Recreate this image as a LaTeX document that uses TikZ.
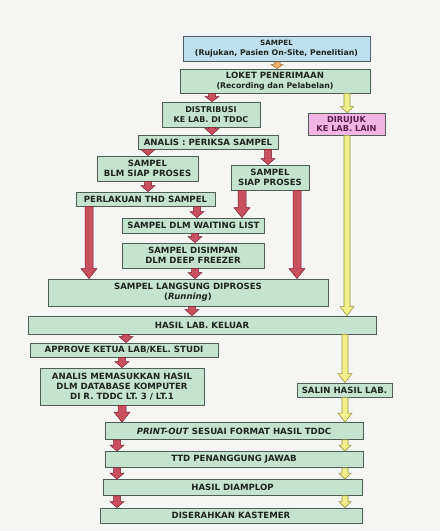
\documentclass[tikz,border=0pt]{standalone}
\usepackage{fontspec}
\setmainfont{DejaVu Sans}
\usetikzlibrary{calc}
\definecolor{paper}{HTML}{F5F5F3}
\definecolor{gfill}{HTML}{C4E4D0}
\definecolor{gedge}{HTML}{4E5E56}
\definecolor{bfill}{HTML}{BEE0EE}
\definecolor{bedge}{HTML}{4E5E66}
\definecolor{pfill}{HTML}{F2B4E4}
\definecolor{ptext}{HTML}{5A1E4A}
\definecolor{rfill}{HTML}{C9505F}
\definecolor{redge}{HTML}{7A2030}
\definecolor{yfill}{HTML}{F2F08A}
\definecolor{yedge}{HTML}{9A9440}
\definecolor{ofill}{HTML}{F0B070}
\definecolor{oedge}{HTML}{A06A30}
\definecolor{txt}{HTML}{1E2420}
\tikzset{
  bshaft/.store in=\bshaft, bhead/.store in=\bhead, bhlen/.store in=\bhlen,
  bshaft=3.5pt, bhead=7pt, bhlen=6pt,
  blk/.style={to path={let \p1=(\tikztostart), \p2=(\tikztotarget) in
    (\x1-\bshaft,\y1) -- (\x1+\bshaft,\y1) -- (\x1+\bshaft,\y2+\bhlen) -- (\x1+\bhead,\y2+\bhlen)
    -- (\x1,\y2) -- (\x1-\bhead,\y2+\bhlen) -- (\x1-\bshaft,\y2+\bhlen) -- cycle}},
  rarr/.style={draw=redge, fill=rfill, line width=0.5pt, blk},
  yarr/.style={draw=yedge, fill=yfill, line width=0.6pt, blk},
  oarr/.style={draw=oedge, fill=ofill, line width=0.5pt, blk},
  longarr/.style={bshaft=4pt, bhead=8pt, bhlen=10pt},
  box/.style={draw=gedge, fill=gfill, line width=0.8pt, inner sep=1pt, align=center,
    text=txt, font=\fontsize{8.6}{10}\selectfont\bfseries},
  bbox/.style={box, draw=bedge, fill=bfill},
  pbox/.style={box, fill=pfill, text=ptext},
}
\begin{document}
\begin{tikzpicture}[x=1pt,y=-1pt]
\useasboundingbox (0,0) rectangle (440,531);
\fill[paper] (0,0) rectangle (440,531);
% columns
\coordinate (cO) at (277,0);
\coordinate (cA) at (212,0);
\coordinate (cY) at (347,0);
\coordinate (cY2) at (345,0);
\coordinate (cB) at (148,0);
\coordinate (cC) at (268,0);
\coordinate (cD) at (197,0);
\coordinate (cE) at (89,0);
\coordinate (cF) at (242,0);
\coordinate (cG) at (297,0);
\coordinate (cH) at (195,0);
\coordinate (cI) at (192,0);
\coordinate (cJ) at (126,0);
\coordinate (cK) at (122,0);
\coordinate (cL) at (117,0);
% boxes
\node[bbox, minimum width=187pt, minimum height=25pt] (sampel) at (276.5,49)
  {{\fontsize{7.2}{8.5}\selectfont SAMPEL}\\{\fontsize{7.8}{8.5}\selectfont (Rujukan, Pasien On-Site, Penelitian)}};
\node[box, minimum width=190pt, minimum height=24pt] (loket) at (275,81)
  {LOKET PENERIMAAN\\{\fontsize{7.8}{8.5}\selectfont (Recording dan Pelabelan)}};
\node[box, minimum width=98pt, minimum height=25pt, font=\fontsize{8}{9.5}\selectfont\bfseries] (distribusi) at (211,114.5)
  {DISTRIBUSI\\KE LAB. DI TDDC};
\node[pbox, minimum width=77pt, minimum height=22pt, font=\fontsize{8.2}{9.5}\selectfont\bfseries] (dirujuk) at (346.5,124)
  {DIRUJUK\\KE LAB. LAIN};
\node[box, minimum width=140pt, minimum height=14pt] (analis) at (208,142)
  {ANALIS : PERIKSA SAMPEL};
\node[box, minimum width=101pt, minimum height=25pt] (blm) at (147.5,168.5)
  {SAMPEL\\BLM SIAP PROSES};
\node[box, minimum width=78pt, minimum height=25pt] (siap) at (270,177.5)
  {SAMPEL\\SIAP PROSES};
\node[box, minimum width=139pt, minimum height=14pt] (perlakuan) at (145.5,199)
  {PERLAKUAN THD SAMPEL};
\node[box, minimum width=142pt, minimum height=15pt] (waiting) at (193.5,225.5)
  {SAMPEL DLM WAITING LIST};
\node[box, minimum width=142pt, minimum height=25pt] (disimpan) at (193,255.5)
  {SAMPEL DISIMPAN\\DLM DEEP FREEZER};
\node[box, minimum width=280pt, minimum height=27pt] (langsung) at (188,292.5)
  {SAMPEL LANGSUNG DIPROSES\\(\textit{Running})};
\node[box, minimum width=348pt, minimum height=18pt] (keluar) at (202,325)
  {HASIL LAB. KELUAR};
\node[box, minimum width=188pt, minimum height=14pt] (approve) at (124,350)
  {APPROVE KETUA LAB/KEL. STUDI};
\node[box, minimum width=164pt, minimum height=37pt] (memasuk) at (122,386.5)
  {ANALIS MEMASUKKAN HASIL\\DLM DATABASE KOMPUTER\\DI R. TDDC LT. 3 / LT.1};
\node[box, minimum width=95pt, minimum height=14pt] (salin) at (344.5,390)
  {SALIN HASIL LAB.};
\node[box, minimum width=258pt, minimum height=17pt] (print) at (234,431)
  {\textit{PRINT-OUT} SESUAI FORMAT HASIL TDDC};
\node[box, minimum width=258pt, minimum height=16pt] (ttd) at (234,459.5)
  {TTD PENANGGUNG JAWAB};
\node[box, minimum width=259pt, minimum height=16pt] (amplop) at (232.5,487.5)
  {HASIL DIAMPLOP};
\node[box, minimum width=262pt, minimum height=15pt] (serah) at (231,515.5)
  {DISERAHKAN KASTEMER};
% arrows
\draw[oarr, bshaft=3pt, bhead=6pt, bhlen=4pt] (sampel.south -| cO) to (loket.north -| cO);
\draw[rarr, bhlen=5pt] (loket.south -| cA) to (distribusi.north -| cA);
\draw[yarr, bshaft=3pt, bhead=6.5pt] (loket.south -| cY) to (dirujuk.north -| cY);
\draw[rarr] (distribusi.south -| cA) to (analis.north -| cA);
\draw[rarr] (analis.south -| cB) to (blm.north -| cB);
\draw[rarr] (analis.south -| cC) to (siap.north -| cC);
\draw[rarr] (blm.south -| cB) to (perlakuan.north -| cB);
\draw[rarr] (perlakuan.south -| cD) to (waiting.north -| cD);
\draw[rarr, longarr] (perlakuan.south -| cE) to (langsung.north -| cE);
\draw[rarr, longarr] (siap.south -| cF) to (waiting.north -| cF);
\draw[rarr, longarr] (siap.south -| cG) to (langsung.north -| cG);
\draw[rarr] (waiting.south -| cH) to (disimpan.north -| cH);
\draw[rarr] (disimpan.south -| cH) to (langsung.north -| cH);
\draw[rarr] (langsung.south -| cI) to (keluar.north -| cI);
\draw[rarr] (keluar.south -| cJ) to (approve.north -| cJ);
\draw[rarr] (approve.south -| cK) to (memasuk.north -| cK);
\draw[rarr, longarr] (memasuk.south -| cK) to (print.north -| cK);
\draw[rarr] (print.south -| cL) to (ttd.north -| cL);
\draw[rarr] (ttd.south -| cL) to (amplop.north -| cL);
\draw[rarr] (amplop.south -| cL) to (serah.north -| cL);
\draw[yarr, bshaft=3pt, bhead=7pt, bhlen=9pt] (dirujuk.south -| cY) to (keluar.north -| cY);
\draw[yarr, bshaft=3pt, bhead=7pt, bhlen=9pt] (keluar.south -| cY2) to (salin.north -| cY2);
\draw[yarr, bshaft=3pt, bhead=7pt, bhlen=9pt] (salin.south -| cY2) to (print.north -| cY2);
\draw[yarr, bshaft=3pt, bhead=6pt] (print.south -| cY2) to (ttd.north -| cY2);
\draw[yarr, bshaft=3pt, bhead=6pt] (ttd.south -| cY2) to (amplop.north -| cY2);
\draw[yarr, bshaft=3pt, bhead=6pt] (amplop.south -| cY2) to (serah.north -| cY2);
\end{tikzpicture}
\end{document}
